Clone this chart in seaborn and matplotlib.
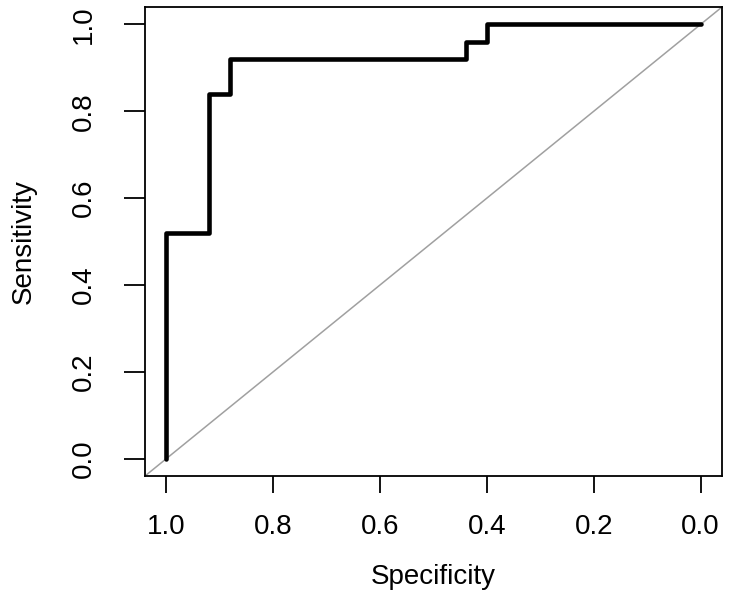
import matplotlib
matplotlib.use("Agg")
import matplotlib.pyplot as plt
import seaborn as sns
import pandas as pd

# ROC curve steps (specificity, sensitivity)
specificity = [1.00, 1.00, 0.92, 0.92, 0.88, 0.88, 0.44, 0.44, 0.40, 0.40, 0.00]
sensitivity = [0.00, 0.52, 0.52, 0.84, 0.84, 0.92, 0.92, 0.96, 0.96, 1.00, 1.00]
ticks = [1.0, 0.8, 0.6, 0.4, 0.2, 0.0]

sns.set_style("white")
plt.rcParams['font.family'] = ['Liberation Sans', 'DejaVu Sans']
plt.rcParams['text.color'] = 'black'
plt.rcParams['axes.labelcolor'] = 'black'
plt.rcParams['xtick.color'] = 'black'
plt.rcParams['ytick.color'] = 'black'

df = pd.DataFrame({"Specificity": specificity, "Sensitivity": sensitivity})

fig = plt.figure(figsize=(7.32, 6.02), dpi=100)
ax = fig.add_axes([145 / 732, 126 / 602, 577 / 732, 469 / 602])

ax.axline((1, 0), (0, 1), color="#a0a0a0", lw=1.1, zorder=1)
sns.lineplot(data=df, x="Specificity", y="Sensitivity", sort=False, estimator=None,
             color="black", lw=3.3, ax=ax, zorder=2)

ax.set_xlim(1.04, -0.04)
ax.set_ylim(-0.04, 1.04)
ax.set_xticks(ticks)
ax.set_xticklabels([f"{t:.1f}" for t in ticks])
ax.set_yticks(ticks)
ax.set_yticklabels([f"{t:.1f}" for t in ticks], rotation=90, va="center")

for s in ax.spines.values():
    s.set_visible(True)
    s.set_color("black")
    s.set_linewidth(1.3)

ax.tick_params(axis="x", direction="out", length=12.5, width=1.3,
               labelsize=20, pad=15, bottom=True)
ax.tick_params(axis="y", direction="out", length=15, width=1.3,
               labelsize=20, pad=20, left=True)
ax.set_xlabel("Specificity", fontsize=20, labelpad=17)
ax.set_ylabel("Sensitivity", fontsize=20, labelpad=24)

fig.savefig("out.png", dpi=100)
